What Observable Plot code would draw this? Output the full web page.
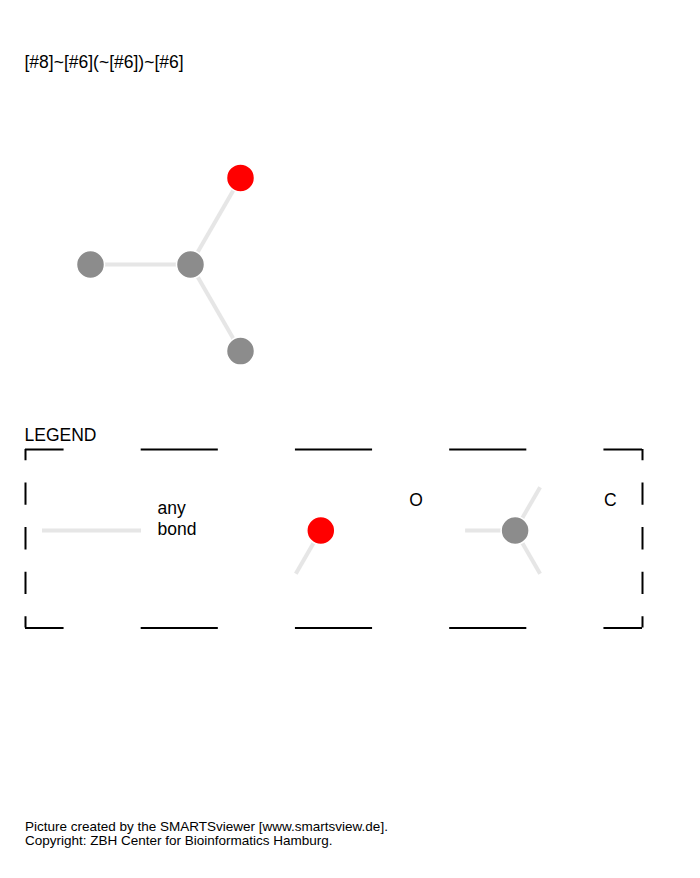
<!DOCTYPE html>
<html><head><meta charset="utf-8">
<script src="https://cdn.jsdelivr.net/npm/d3@7"></script>
<script src="https://cdn.jsdelivr.net/npm/@observablehq/plot@0.6"></script>
<style>html,body{margin:0;padding:0;background:#fff}</style>
</head><body><div id="chart"></div>
<script>
// ---- data ----
const smarts = "[#8]~[#6](~[#6])~[#6]";
const atomElements = ["O", "C", "C", "C"];
const atomX = [0.5, 0, -1, 0.5];       // molecule coordinates (bond lengths)
const atomY = [0.866, 0, 0, -0.866];
const bondFrom = [0, 1, 1];
const bondTo = [1, 2, 3];
const elementNames = ["O", "C"];
const elementColors = ["#ff0000", "#8c8c8c"];
const legendTitle = "LEGEND";
const legendBondLabel = ["any", "bond"];
const footerLines = [
  "Picture created by the SMARTSviewer [www.smartsview.de].",
  "Copyright: ZBH Center for Bioinformatics Hamburg."
];

// ---- layout ----
const W = 700, H = 878;
const ox = 190, oy = 264, L = 100;
const bondColor = "#e6e6e6";
const colorOf = el => elementColors[elementNames.indexOf(el)];
const fs = 17.5;

const atoms = atomElements.map((el, i) => ({el, px: ox + L * atomX[i], py: oy - L * atomY[i]}));
const bonds = bondFrom.map((a, j) => ({
  x1: atoms[a].px, y1: atoms[a].py, x2: atoms[bondTo[j]].px, y2: atoms[bondTo[j]].py
}));

const degree = i => bondFrom.filter(b => b === i).length + bondTo.filter(b => b === i).length;
const legendAtoms = [];
const legendStubs = [];
elementNames.forEach((el, k) => {
  const idx = atomElements.map((e, i) => i).filter(i => atomElements[i] === el);
  const best = idx.reduce((a, b) => degree(b) > degree(a) ? b : a);
  const cx = 320.3 + 194.3 * k, cy = 530;
  legendAtoms.push({el, cx, cy, lx: 415.5 + 194.3 * k, ly: 505});
  bondFrom.forEach((f, j) => {
    const t = bondTo[j];
    const o = f === best ? t : t === best ? f : null;
    if (o !== null) legendStubs.push({
      x1: cx, y1: cy,
      x2: cx + 0.5 * L * (atomX[o] - atomX[best]),
      y2: cy - 0.5 * L * (atomY[o] - atomY[best])
    });
  });
});

const bx1 = 25, bx2 = 642, by1 = 449, by2 = 627.5;
const dh = (bx2 - bx1) / 8, dv = (by2 - by1) / 8;

const chart = Plot.plot({
  width: W, height: H, margin: 0,
  x: {type: "identity", axis: null},
  y: {type: "identity", axis: null},
  color: {type: "identity"},
  style: {fontFamily: "'Liberation Sans', Arial, sans-serif", background: "#fff", color: "#000"},
  marks: [
    Plot.text([smarts], {x: 24, y: 67.5, text: d => d, textAnchor: "start", lineAnchor: "bottom", fontSize: fs, fill: "#000"}),
    // molecule
    Plot.link(bonds, {x1: "x1", y1: "y1", x2: "x2", y2: "y2", stroke: bondColor, strokeWidth: 4}),
    Plot.dot(atoms, {x: "px", y: "py", r: 14, fill: d => colorOf(d.el), stroke: "#fff", strokeWidth: 1.5}),
    // legend
    Plot.text([legendTitle], {x: 24, y: 440, text: d => d, textAnchor: "start", lineAnchor: "bottom", fontSize: fs, fill: "#000"}),
    Plot.ruleY([by1, by2], {x1: bx1, x2: bx2, stroke: "#000", strokeWidth: 2, strokeDasharray: `${dh} ${dh}`, strokeDashoffset: dh / 2}),
    Plot.ruleX([bx1, bx2], {y1: by1, y2: by2, stroke: "#000", strokeWidth: 2, strokeDasharray: `${dv} ${dv}`, strokeDashoffset: dv / 2}),
    Plot.ruleY([530], {x1: 42, x2: 141, stroke: bondColor, strokeWidth: 4}),
    Plot.text(legendBondLabel, {x: 157, y: (d, i) => 513 + 21 * i, text: d => d, textAnchor: "start", lineAnchor: "bottom", fontSize: fs, fill: "#000"}),
    Plot.link(legendStubs, {x1: "x1", y1: "y1", x2: "x2", y2: "y2", stroke: bondColor, strokeWidth: 4}),
    Plot.dot(legendAtoms, {x: "cx", y: "cy", r: 14, fill: d => colorOf(d.el), stroke: "#fff", strokeWidth: 1.5}),
    Plot.text(legendAtoms, {x: "lx", y: "ly", text: "el", textAnchor: "middle", lineAnchor: "bottom", fontSize: fs, fill: "#000"}),
    // footer
    Plot.text(footerLines, {x: 24.5, y: (d, i) => 830.5 + 14.3 * i, text: d => d, textAnchor: "start", lineAnchor: "bottom", fontSize: 13.5, fill: "#000"})
  ]
});
document.getElementById("chart").appendChild(chart);
</script>
</body></html>
